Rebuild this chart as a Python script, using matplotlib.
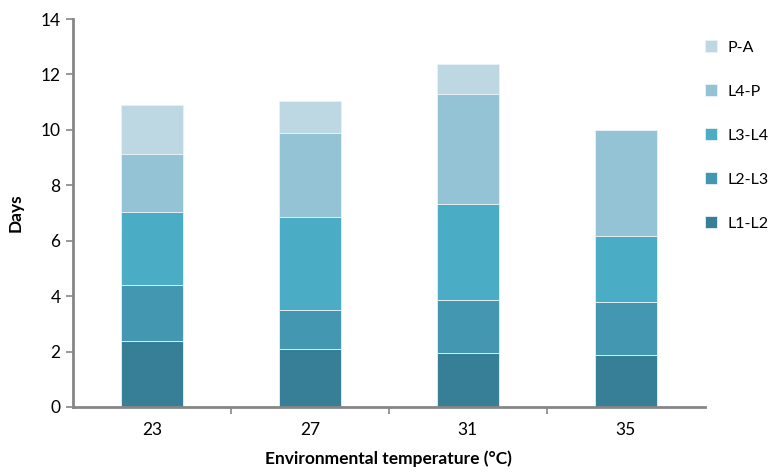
import numpy as np
import matplotlib.pyplot as plt

temps = ["23", "27", "31", "35"]
l1_l2 = [2.37, 2.08, 1.94, 1.87]
l2_l3 = [2.02, 1.41, 1.92, 1.91]
l3_l4 = [2.64, 3.38, 3.48, 2.38]
l4_p = [2.09, 3.03, 3.97, 3.84]
p_a = [1.78, 1.14, 1.06, 0.0]

stages = ["L1-L2", "L2-L3", "L3-L4", "L4-P", "P-A"]
colors = ["#377f96", "#4397b0", "#4bacc6", "#93c3d5", "#bdd7e3"]

plt.rcParams['font.family'] = ['Lato', 'DejaVu Sans']

fig = plt.figure(figsize=(7.71, 4.76), dpi=100)
ax = fig.add_axes([0.0947, 0.145, 0.8193, 0.815])

x = np.arange(len(temps))
bottom = np.zeros(len(temps))
handles = []
for vals, name, c in zip([l1_l2, l2_l3, l3_l4, l4_p, p_a], stages, colors):
    vals = np.array(vals)
    b = ax.bar(x, vals, 0.39, bottom=bottom, color=c, label=name,
               edgecolor="#e8f2f6", linewidth=0.6)
    handles.append(b)
    bottom += vals

ax.set_xlim(-0.5, 3.5)
ax.set_ylim(0, 14)
ax.set_yticks(np.arange(0, 15, 2))
ax.set_xticks(x)
ax.set_xticklabels(temps)
ax.set_xticks([0.5, 1.5, 2.5], minor=True)
ax.tick_params(axis="x", which="major", length=0, pad=11, labelsize=12.5)
ax.tick_params(axis="x", which="minor", length=5, width=1.2, color="#868686")
ax.tick_params(axis="y", length=5, width=1.2, color="#868686", labelsize=12.5, pad=4)

for s in ["top", "right"]:
    ax.spines[s].set_visible(False)
for s in ["left", "bottom"]:
    ax.spines[s].set_color("#868686")
    ax.spines[s].set_linewidth(2)

ax.set_ylabel("Days", fontweight="bold", fontsize=12.5, labelpad=12)
ax.set_xlabel("Environmental temperature (°C)", fontweight="bold", fontsize=12.5, labelpad=9)

leg = fig.legend(handles[::-1], stages[::-1], loc="upper left",
                 bbox_to_anchor=(0.915, 0.915), frameon=False, fontsize=11.5,
                 handlelength=0.75, handleheight=0.75, handletextpad=0.6,
                 labelspacing=1.85, borderpad=0, borderaxespad=0)

fig.savefig("out.png", dpi=100)
